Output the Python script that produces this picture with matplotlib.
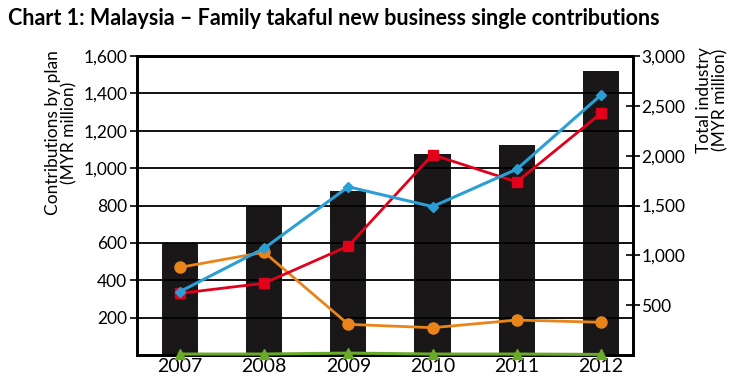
import matplotlib
matplotlib.use("Agg")
import matplotlib.pyplot as plt
import numpy as np

plt.rcParams["font.family"] = ["Lato", "DejaVu Sans"]

# --- data ---
years = ["2007", "2008", "2009", "2010", "2011", "2012"]
total_industry = [1125, 1500, 1645, 2015, 2105, 2850]   # bars, right axis
plan_blue = [339, 571, 900, 794, 994, 1391]            # diamonds
plan_red = [330, 384, 583, 1072, 926, 1293]            # squares
plan_orange = [469, 550, 164, 146, 187, 175]           # circles
plan_green = [5, 5, 10, 5, 5, 3]                       # triangles

left_ticks = [200, 400, 600, 800, 1000, 1200, 1400, 1600]
right_ticks = [500, 1000, 1500, 2000, 2500, 3000]

x = np.arange(len(years))

fig = plt.figure(figsize=(7.38, 3.77), dpi=100)
ax = fig.add_axes([0.1856, 0.0584, 0.672, 0.793])
ax2 = ax.twinx()

# bars on the right axis, drawn behind the lines
ax2.bar(x, total_industry, width=0.43, color="#1a1718", zorder=1)
ax2.set_ylim(0, 3000)
ax2.set_yticks(right_ticks)
ax2.set_yticklabels([f"{v:,}" for v in right_ticks], fontsize=12.5)
ax2.tick_params(axis="y", direction="inout", length=10, width=1.2, pad=1)

ax.set_zorder(ax2.get_zorder() + 1)
ax.patch.set_visible(False)

ax.set_ylim(0, 1600)
ax.set_xlim(-0.51, 5.38)
ax.set_yticks(left_ticks)
ax.set_yticklabels([f"{v:,}" for v in left_ticks], fontsize=12.5)
ax.yaxis.grid(True, color="black", lw=1.3)
ax.set_axisbelow(True)
ax.tick_params(axis="y", length=5, width=1.2, pad=2)
ax.set_xticks(x)
ax.set_xticklabels(years, fontsize=14)
ax.tick_params(axis="x", length=0, pad=2)

ax.plot(x, plan_green, color="#6aaa2a", marker="^", ms=7, lw=2.2, zorder=3, clip_on=False)
ax.plot(x, plan_orange, color="#e8841a", marker="o", ms=8, lw=2, zorder=4)
ax.plot(x, plan_red, color="#e2001a", marker="s", ms=7, lw=2, zorder=5)
ax.plot(x, plan_blue, color="#2a9fd6", marker="D", ms=5, lw=2.2, zorder=6)

for a in (ax, ax2):
    for s in a.spines.values():
        s.set_linewidth(2)

ax.text(-0.153, 1.02, "Contributions by plan\n(MYR million)", transform=ax.transAxes,
        rotation=90, ha="center", va="top", fontsize=12.5, linespacing=1.0,
        multialignment="center")
ax2.text(1.16, 1.03, "Total industry\n(MYR million)", transform=ax2.transAxes,
         rotation=90, ha="center", va="top", fontsize=12.5, linespacing=1.0,
         multialignment="center")

fig.text(0.011, 0.952, "Chart 1: Malaysia \u2013 Family takaful new business single contributions",
         fontsize=15.5, fontweight="bold", ha="left", va="center")

fig.savefig("out.png", dpi=100)
